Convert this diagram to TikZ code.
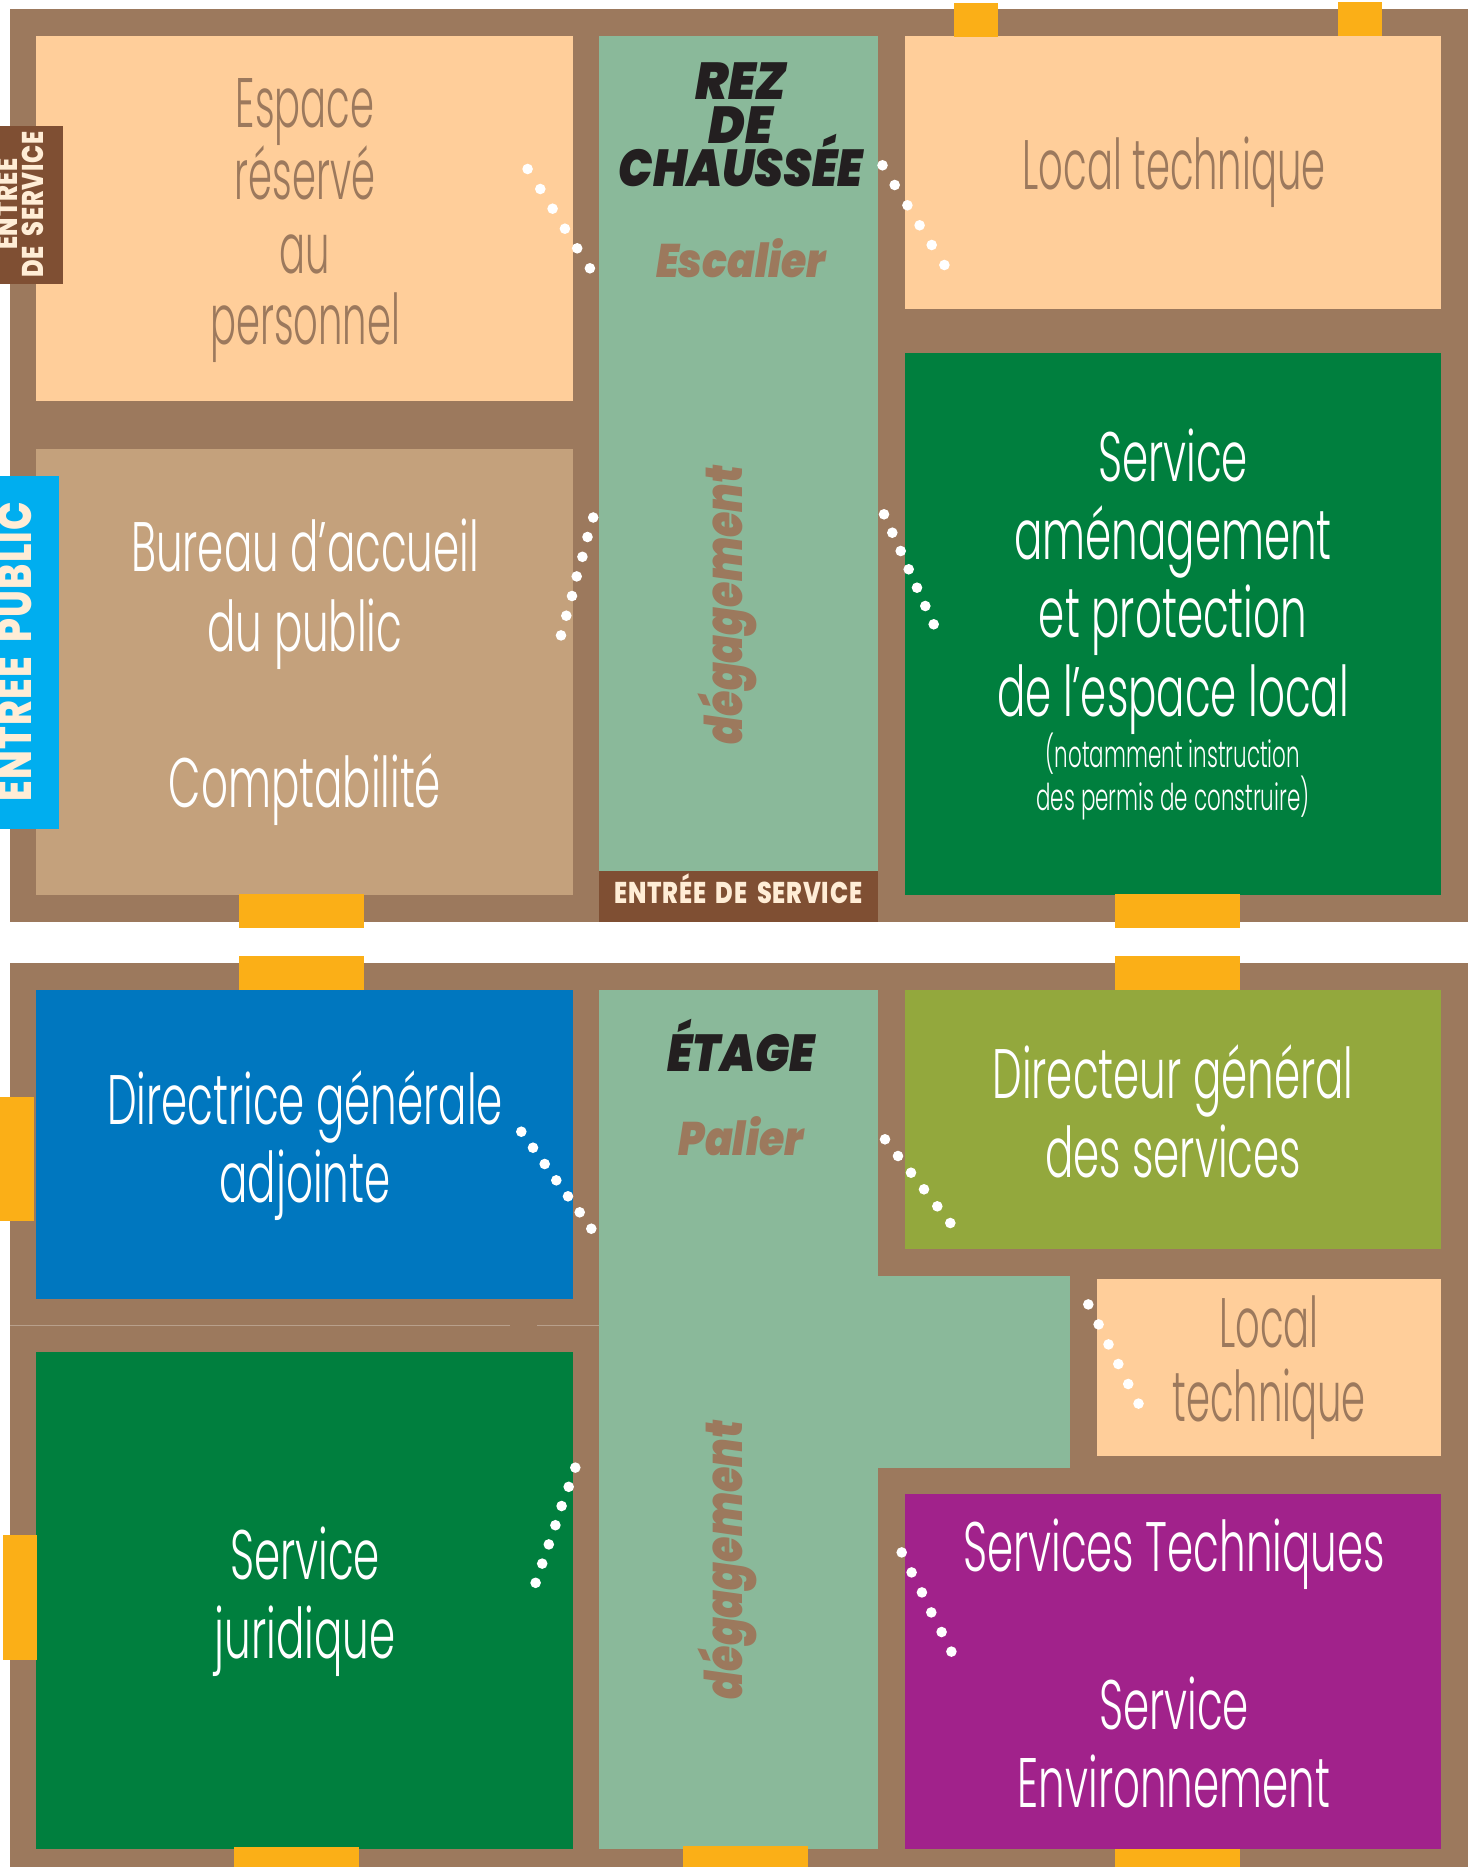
\documentclass[tikz,border=0pt]{standalone}
\usepackage{fontspec}
\newfontfamily\futl[UprightFont=* Light,FakeStretch=0.60]{Poppins}
\newfontfamily\futn[UprightFont=* Light,FakeStretch=0.55]{Poppins}
\newfontfamily\futs[UprightFont=* Light,FakeStretch=0.58]{Poppins}
\newfontfamily\futb[UprightFont=* Black Italic,FakeStretch=0.95]{Poppins}
\newfontfamily\futm[UprightFont=* Black Italic,FakeStretch=0.87]{Poppins}
\newfontfamily\futd[UprightFont=* Black Italic,FakeStretch=0.79]{Poppins}
\newfontfamily\futc[UprightFont=* ExtraBold,FakeStretch=0.8,LetterSpace=2.5,WordSpace=1.8]{Poppins}
\definecolor{wallc}{HTML}{9C795D}
\definecolor{peachc}{HTML}{FFCE9A}
\definecolor{beigec}{HTML}{C4A17C}
\definecolor{corrc}{HTML}{8AB99A}
\definecolor{greenc}{HTML}{007F3E}
\definecolor{bluec}{HTML}{0077BF}
\definecolor{olivec}{HTML}{93A83D}
\definecolor{purplec}{HTML}{A1228B}
\definecolor{doorc}{HTML}{FBAF17}
\definecolor{servc}{HTML}{7F4F33}
\definecolor{pubc}{HTML}{00AEEF}
\definecolor{creamc}{HTML}{FFEDD6}
\definecolor{inkc}{HTML}{231F20}
\definecolor{seamc}{HTML}{B8A08C}
\tikzset{
  big/.style={anchor=base,inner sep=0pt,font=\futl\fontsize{35}{35}\selectfont,text=white},
  bigb/.style={big,font=\futn\fontsize{35}{35}\selectfont,text=wallc},
  small/.style={big,font=\futs\fontsize{18.5}{18.5}\selectfont},
  head/.style={anchor=base,inner sep=0pt,font=\futb\fontsize{26}{26}\selectfont,text=inkc},
  headn/.style={head,font=\futm\fontsize{26}{26}\selectfont},
  sub/.style={anchor=base,inner sep=0pt,font=\futm\fontsize{23.5}{23.5}\selectfont,text=wallc},
  deg/.style={anchor=base,inner sep=0pt,rotate=90,font=\futd\fontsize{26}{26}\selectfont,text=wallc},
  ent/.style={anchor=base,inner sep=0pt,font=\futc\fontsize{15}{15}\selectfont,text=creamc},
}
\begin{document}
\begin{tikzpicture}[x=0.5pt,y=-0.5pt]
\useasboundingbox (0,0) rectangle (1475,1867);
% walls
\fill[wallc] (10,9.5) rectangle (1468,921.5);
\fill[wallc] (10,963) rectangle (1468,1867);
\draw[seamc,line width=0.4pt] (10,1325) -- (510,1325) (537,1325) -- (599,1325);
% rooms upper
\fill[peachc] (36,36) rectangle (572.5,400.5);
\fill[beigec] (36,449) rectangle (572.5,894.5);
\fill[corrc] (599,36) rectangle (878,871);
\fill[servc] (599,871) rectangle (878,922);
\fill[peachc] (904.5,36) rectangle (1441,309);
\fill[greenc] (904.5,352.5) rectangle (1441,894.5);
% rooms lower
\fill[bluec] (36,990) rectangle (572.5,1299);
\fill[greenc] (36,1352) rectangle (572.5,1849);
\fill[corrc] (599,990) rectangle (878,1849);
\fill[corrc] (878,1276) rectangle (1070,1468);
\fill[olivec] (904.5,990) rectangle (1441,1249);
\fill[peachc] (1097,1279) rectangle (1441,1456);
\fill[purplec] (904.5,1494) rectangle (1441,1849);
% doors
\fill[doorc] (954,3) rectangle (998,37);
\fill[doorc] (1338,2) rectangle (1382,36);
\fill[doorc] (239,894) rectangle (364,927.5);
\fill[doorc] (1115,894) rectangle (1240,927.5);
\fill[doorc] (239,956) rectangle (364,990);
\fill[doorc] (1115,956) rectangle (1240,990);
\fill[doorc] (0,1097) rectangle (34,1221);
\fill[doorc] (3,1535) rectangle (37,1660);
\fill[doorc] (234,1847) rectangle (359,1867);
\fill[doorc] (683,1846) rectangle (808,1867);
\fill[doorc] (1115,1849) rectangle (1240,1867);
% side entrances
\fill[servc] (0,126) rectangle (63,284);
\fill[pubc] (0,476) rectangle (59,829);
% labels
\node[bigb] (a1) at (305,128) {Espace};
\node[bigb] (a2) at (305,200) {réservé};
\node[bigb] (a3) at (305,273) {au};
\node[bigb] (a4) at (305,344) {personnel};
\node[big] (b1) at (305,571) {Bureau d’accueil};
\node[big] (b2) at (305,651) {du public};
\node[big] (b3) at (305,807) {Comptabilité};
\node[bigb] (c1) at (1174,190) {Local technique};
\node[big] (d1) at (1173,481) {Service};
\node[big] (d2) at (1173,559) {aménagement};
\node[big] (d3) at (1173,637) {et protection};
\node[big] (d4) at (1173,716) {de l’espace local};
\node[small] (d5) at (1173,767) {(notamment instruction};
\node[small] (d6) at (1173,810) {des permis de construire)};
\node[big] (e1) at (305,1124) {Directrice générale};
\node[big] (e2) at (305,1202) {adjointe};
\node[big] (f1) at (1173,1098) {Directeur général};
\node[big] (f2) at (1173,1177) {des services};
\node[bigb] (g1) at (1269,1347) {Local};
\node[bigb] (g2) at (1269,1421) {technique};
\node[big] (h1) at (305,1579) {Service};
\node[big] (h2) at (305,1658) {juridique};
\node[big] (i1) at (1174,1571) {Services Techniques};
\node[big] (i2) at (1174,1729) {Service};
\node[big] (i3) at (1174,1807) {Environnement};
\node[head] (r1) at (741,100) {REZ};
\node[head] (r2) at (741,143.5) {DE};
\node[headn] (r3) at (741,187) {CHAUSSÉE};
\node[sub] (r4) at (741,277.5) {Escalier};
\node[deg] (r5) at (742.7,605) {dégagement};
\node[headn] (s1) at (741,1071.5) {ÉTAGE};
\node[sub] (s2) at (741,1155) {Palier};
\node[deg] (s3) at (742.7,1560) {dégagement};
\node[ent] (t1) at (738.3,903.3) {ENTRÉE DE SERVICE};
\node[ent,rotate=90] (t2) at (43.9,204.5) {DE SERVICE};
\node[ent,rotate=90] (t3) at (18,204) {ENTRÉE};
\node[ent,rotate=90,font=\futc\fontsize{23.5}{23.5}\selectfont] (t4) at (31.6,651.6) {ENTRÉE PUBLIC};
% door swings
\foreach \p in {
 (527.6,169),(540.3,189),(552.6,208.7),(564.9,228.7),(577.2,248.3),(589.9,268.3),
 (593.2,517.5),(587.5,537),(582.4,556.8),(576.7,576.4),(572,596),(566.3,615.7),(561,635.4),
 (882.5,165.3),(894.7,185),(907.4,205.3),(919.6,225.3),(931.7,245),(944.4,265),
 (884,514.3),(892.3,532.7),(900.7,551),(908.7,569.3),(917,587.7),(925.3,606),(933.7,624.3),
 (521.3,1131.7),(533,1147.7),(544.7,1164),(556.3,1180.3),(568,1196.3),(579.7,1212.3),(591.3,1228.7),
 (885,1139.3),(898,1156),(911,1172.7),(924,1189.3),(937.3,1206.3),(950.3,1223),
 (575.3,1467.6),(568.7,1486.8),(561.6,1506),(555.4,1525.2),(548.8,1544.4),(542.2,1563.6),(535.6,1582.8),
 (1088.3,1304.4),(1098.6,1324.4),(1108.5,1344.4),(1118.3,1364),(1128.2,1384),(1138.5,1403.6),
 (901.7,1552.4),(911.6,1572.4),(921.9,1592.4),(931.3,1612.4),(941.6,1632),(951.4,1651.6)}
 {\fill[white] \p circle [radius=5.3];}
\end{tikzpicture}
\end{document}
